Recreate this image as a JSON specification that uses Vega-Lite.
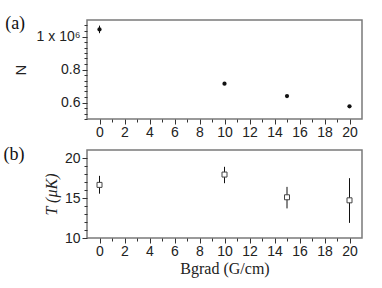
{
  "$schema": "https://vega.github.io/schema/vega-lite/v6.json",
  "padding": {"left": 2, "top": 14, "right": 20, "bottom": 5},
  "background": "white",
  "config": {
    "view": {"stroke": "#7a7a7a", "strokeWidth": 1.5},
    "axis": {"labelFont": "Liberation Sans", "labelFontSize": 14, "labelColor": "#222", "tickColor": "#333", "tickWidth": 1, "domain": false, "grid": false, "labelPadding": 2, "labelOverlap": false, "labelFlush": false, "labelBound": false, "titleFontWeight": "normal", "titleColor": "#222"},
    "concat": {"spacing": 5},
    "title": {"font": "Liberation Serif", "fontSize": 18, "fontWeight": "normal", "color": "#111"}
  },
  "datasets": {
    "n": [
      {"B": 0, "N": 1.043, "lo": 1.02, "hi": 1.066},
      {"B": 10, "N": 0.714, "lo": 0.711, "hi": 0.717},
      {"B": 15, "N": 0.639, "lo": 0.636, "hi": 0.642},
      {"B": 20, "N": 0.577, "lo": 0.574, "hi": 0.58}
    ],
    "t": [
      {"B": 0, "T": 16.64, "lo": 15.54, "hi": 17.77},
      {"B": 10, "T": 17.93, "lo": 16.85, "hi": 18.9},
      {"B": 15, "T": 15.09, "lo": 13.7, "hi": 16.39},
      {"B": 20, "T": 14.71, "lo": 11.89, "hi": 17.48}
    ]
  },
  "vconcat": [
    {
      "width": 275,
      "height": 99,
      "title": {"text": "(a)", "orient": "left", "angle": 0, "anchor": "end", "frame": "group", "baseline": "top", "align": "right", "offset": -32, "dy": -5},
      "data": {"name": "n"},
      "encoding": {
        "x": {"field": "B", "type": "quantitative", "scale": {"domain": [-1, 21], "nice": false, "zero": false},
          "axis": {"title": null, "values": [0,1,2,3,4,5,6,7,8,9,10,11,12,13,14,15,16,17,18,19,20],
            "labelExpr": "datum.value % 2 === 0 ? datum.label : ''",
            "tickSize": {"condition": {"test": "datum.value % 2 === 0", "value": 5}, "value": 3}, "labelPadding": 1}}
      },
      "layer": [
        {"mark": {"type": "rule", "color": "#111", "strokeWidth": 1},
         "encoding": {"y": {"field": "lo", "type": "quantitative", "scale": {"domain": [0.5, 1.1], "nice": false, "zero": false},
           "axis": {"title": "N", "titleFont": "Liberation Sans", "titleFontSize": 15, "titlePadding": 8, "labelOverlap": false,
             "values": [0.5,0.5333,0.5667,0.6,0.6333,0.6667,0.7,0.7333,0.7667,0.8,0.8333,0.8667,0.9,0.9333,0.9667,1.0,1.0333,1.0667],
             "labelExpr": "(abs(datum.value*5 - round(datum.value*5)) < 0.001 && datum.value > 0.55) ? (datum.value > 0.99 ? '1 x 10⁶' : format(datum.value, '.1f')) : ''",
             "tickSize": {"condition": {"test": "abs(datum.value*5 - round(datum.value*5)) < 0.001 && datum.value > 0.55", "value": 5}, "value": 3}}},
           "y2": {"field": "hi"}}},
        {"mark": {"type": "point", "filled": true, "shape": "circle", "color": "#111", "size": 18, "opacity": 1},
         "encoding": {"y": {"field": "N", "type": "quantitative", "scale": {"domain": [0.5, 1.1], "nice": false, "zero": false},
           "axis": {"title": "N", "titleFont": "Liberation Sans", "titleFontSize": 15, "titlePadding": 8, "labelOverlap": false,
             "values": [0.5,0.5333,0.5667,0.6,0.6333,0.6667,0.7,0.7333,0.7667,0.8,0.8333,0.8667,0.9,0.9333,0.9667,1.0,1.0333,1.0667],
             "labelExpr": "(abs(datum.value*5 - round(datum.value*5)) < 0.001 && datum.value > 0.55) ? (datum.value > 0.99 ? '1 x 10⁶' : format(datum.value, '.1f')) : ''",
             "tickSize": {"condition": {"test": "abs(datum.value*5 - round(datum.value*5)) < 0.001 && datum.value > 0.55", "value": 5}, "value": 3}}}}}
      ]
    },
    {
      "width": 275,
      "height": 88,
      "title": {"text": "(b)", "orient": "left", "angle": 0, "anchor": "end", "frame": "group", "baseline": "top", "align": "right", "offset": -2, "dy": -4},
      "data": {"name": "t"},
      "encoding": {
        "x": {"field": "B", "type": "quantitative", "scale": {"domain": [-1, 21], "nice": false, "zero": false},
          "axis": {"title": "Bgrad (G/cm)", "titleFont": "Liberation Serif", "titleFontSize": 16, "titlePadding": 2,
            "values": [0,1,2,3,4,5,6,7,8,9,10,11,12,13,14,15,16,17,18,19,20],
            "labelExpr": "datum.value % 2 === 0 ? datum.label : ''",
            "tickSize": {"condition": {"test": "datum.value % 2 === 0", "value": 5}, "value": 3}, "labelPadding": 1}}
      },
      "layer": [
        {"mark": {"type": "rule", "color": "#111", "strokeWidth": 1},
         "encoding": {"y": {"field": "lo", "type": "quantitative", "scale": {"domain": [10, 21], "nice": false, "zero": false},
           "axis": {"title": "T (μK)", "titleFont": "Liberation Serif", "titleFontStyle": "italic", "titleFontSize": 16, "titlePadding": 5, "labelOverlap": false,
             "values": [10,11,12,13,14,15,16,17,18,19,20],
             "labelExpr": "datum.value % 5 === 0 ? datum.label : ''",
             "tickSize": {"condition": {"test": "datum.value % 5 === 0", "value": 5}, "value": 3}}},
           "y2": {"field": "hi"}}},
        {"mark": {"type": "point", "filled": false, "shape": "square", "stroke": "#444", "fill": "white", "fillOpacity": 1, "size": 25, "strokeWidth": 1, "opacity": 1},
         "encoding": {"y": {"field": "T", "type": "quantitative", "scale": {"domain": [10, 21], "nice": false, "zero": false},
           "axis": {"title": "T (μK)", "titleFont": "Liberation Serif", "titleFontStyle": "italic", "titleFontSize": 16, "titlePadding": 5, "labelOverlap": false,
             "values": [10,11,12,13,14,15,16,17,18,19,20],
             "labelExpr": "datum.value % 5 === 0 ? datum.label : ''",
             "tickSize": {"condition": {"test": "datum.value % 5 === 0", "value": 5}, "value": 3}}}}}
      ]
    }
  ]
}
